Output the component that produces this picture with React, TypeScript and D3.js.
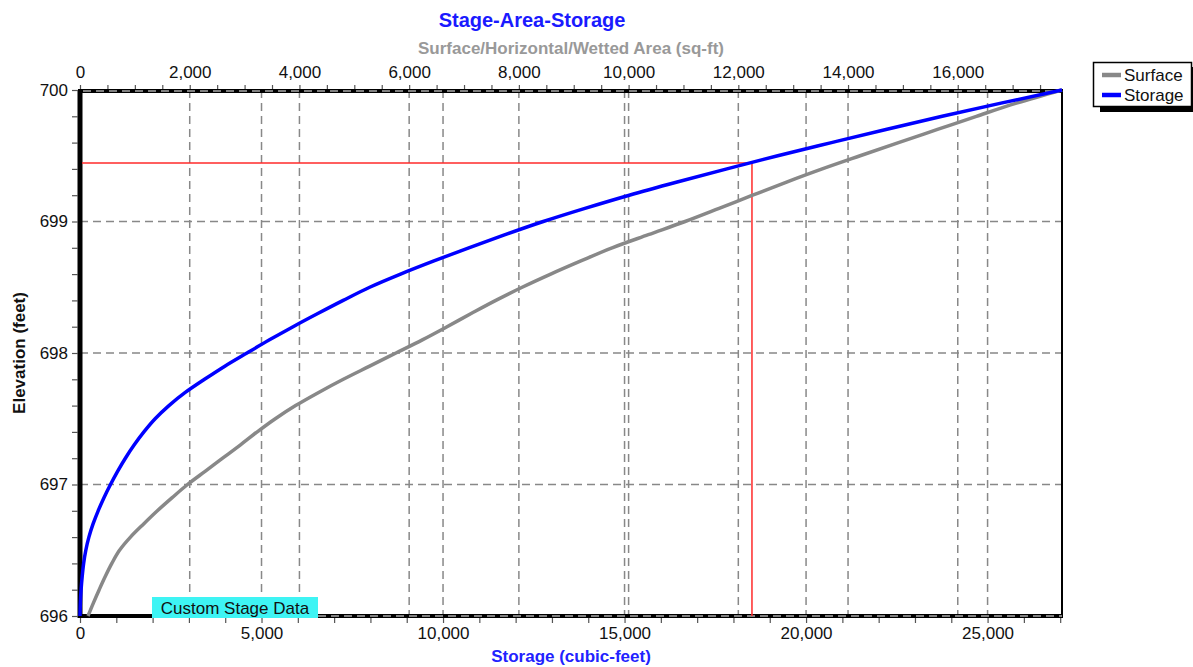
import React, { useEffect, useRef } from 'react';
import * as d3 from 'd3';

// elevation stations (feet)
const elevations = [
  696.0, 696.1, 696.2, 696.3, 696.4, 696.5, 696.6, 696.7, 696.8, 696.9,
  697.0, 697.1, 697.2, 697.3, 697.4, 697.5, 697.6, 697.7, 697.8, 697.9,
  698.0, 698.1, 698.2, 698.3, 698.4, 698.5, 698.6, 698.7, 698.8, 698.9,
  699.0, 699.1, 699.2, 699.3, 699.4, 699.5, 699.6, 699.7, 699.8, 699.9,
  700.0,
];

// storage (cubic-feet) at each elevation
const storageVol = [
  0, 10, 30, 60, 100, 160, 245, 360, 500, 660,
  840, 1035, 1250, 1490, 1760, 2070, 2450, 2900, 3430, 3990,
  4600, 5220, 5870, 6550, 7250, 7980, 8830, 9750, 10710, 11710,
  12760, 13910, 15130, 16450, 17820, 19220, 20700, 22200, 23750, 25370,
  27050,
];

// surface area (sq-ft) at each elevation
const surfaceArea = [
  146, 245, 350, 460, 580, 720, 920, 1160, 1410, 1680,
  1960, 2280, 2600, 2920, 3230, 3560, 3930, 4350, 4800, 5280,
  5760, 6240, 6690, 7130, 7580, 8060, 8580, 9130, 9700, 10360,
  11030, 11650, 12260, 12880, 13530, 14220, 14920, 15630, 16340, 17070,
  17900,
];

const storageMax = 27050;
const areaMax = 17900;
const elevTicks = [696, 697, 698, 699, 700];
const storageTicks = [0, 5000, 10000, 15000, 20000, 25000];
const areaTicks = [0, 2000, 4000, 6000, 8000, 10000, 12000, 14000, 16000];

// red marker lines
const markerElev = 699.445;
const markerStorage = 18510;

const legendItems = [
  { name: 'Surface', color: '#888888' },
  { name: 'Storage', color: '#0000ff' },
];

const FONT = '"Liberation Sans", Arial, sans-serif';

function Chart() {
  const ref = useRef<SVGSVGElement | null>(null);

  useEffect(() => {
    if (!ref.current) return;
    const width = 1193;
    const height = 667;
    const left = 80;
    const right = 1062;
    const top = 90;
    const bottom = 616;

    const svg = d3.select(ref.current);
    svg.selectAll('*').remove();
    svg.attr('width', width).attr('height', height);

    const x = d3.scaleLinear().domain([0, storageMax]).range([left, right]);
    const xTop = d3.scaleLinear().domain([0, areaMax]).range([left, right]);
    const y = d3.scaleLinear().domain([696, 700]).range([bottom, top]);
    const fmt = d3.format(',');

    // grid
    const grid = svg.append('g').attr('stroke', '#888').attr('stroke-width', 1.5).attr('stroke-dasharray', '8,5');
    grid.selectAll('line.v1').data(storageTicks.filter((d) => d > 0)).join('line')
      .attr('x1', (d) => x(d)).attr('x2', (d) => x(d)).attr('y1', top).attr('y2', bottom);
    grid.selectAll('line.v2').data(areaTicks.filter((d) => d > 0)).join('line')
      .attr('class', 'v2')
      .attr('x1', (d) => xTop(d)).attr('x2', (d) => xTop(d)).attr('y1', top).attr('y2', bottom);
    grid.selectAll('line.h').data(elevTicks.filter((d) => d > 696 && d < 700)).join('line')
      .attr('class', 'h')
      .attr('x1', left).attr('x2', right).attr('y1', (d) => y(d)).attr('y2', (d) => y(d));

    // frame
    const frame = svg.append('g').attr('stroke', '#000');
    frame.append('line').attr('x1', left - 2).attr('x2', right).attr('y1', top + 1).attr('y2', top + 1).attr('stroke-width', 4);
    frame.append('line').attr('x1', left - 2).attr('x2', right).attr('y1', bottom).attr('y2', bottom).attr('stroke-width', 4);
    frame.append('line').attr('x1', left).attr('x2', left).attr('y1', top).attr('y2', bottom + 2).attr('stroke-width', 5);
    frame.append('line').attr('x1', right).attr('x2', right).attr('y1', top - 1).attr('y2', bottom + 2).attr('stroke-width', 2);
    const edge = svg.append('g').attr('stroke', '#aaa').attr('stroke-width', 1.5).attr('stroke-dasharray', '8,5');
    edge.append('line').attr('x1', left + 3).attr('x2', right).attr('y1', top + 1).attr('y2', top + 1);
    edge.append('line').attr('x1', 318).attr('x2', right).attr('y1', bottom).attr('y2', bottom);

    // axes
    const styleAxis = (g: any) => {
      g.select('.domain').remove();
      g.selectAll('.tick line').attr('stroke', '#555').attr('stroke-width', 1.2);
      g.selectAll('.tick text').attr('font-family', FONT).attr('font-size', 17).attr('fill', '#111');
    };

    svg.append('g')
      .attr('transform', `translate(0,${bottom + 2})`)
      .call(d3.axisBottom(x).tickValues(d3.range(0, storageMax, 1000)).tickSize(5).tickPadding(4)
        .tickFormat((d: any) => (d % 5000 === 0 ? fmt(d) : '')))
      .call(styleAxis);

    svg.append('g')
      .attr('transform', `translate(0,${top - 1})`)
      .call(d3.axisTop(xTop).tickValues(d3.range(0, areaMax, 500)).tickSize(4).tickPadding(7)
        .tickFormat((d: any) => (d % 2000 === 0 ? fmt(d) : '')))
      .call(styleAxis);

    svg.append('g')
      .attr('transform', `translate(${left - 2},0)`)
      .call(d3.axisLeft(y).tickValues(d3.range(696, 700.01, 0.2)).tickSize(6).tickPadding(4)
        .tickFormat((d: any) => (Math.abs(d - Math.round(d)) < 1e-6 ? String(Math.round(d)) : '')))
      .call(styleAxis);

    // marker lines
    svg.append('line').attr('x1', left + 2).attr('x2', x(markerStorage)).attr('y1', y(markerElev)).attr('y2', y(markerElev))
      .attr('stroke', '#ff2a2a').attr('stroke-width', 1.5);
    svg.append('line').attr('x1', x(markerStorage)).attr('x2', x(markerStorage)).attr('y1', y(markerElev)).attr('y2', bottom)
      .attr('stroke', '#ff2a2a').attr('stroke-width', 1.5);

    // curves
    const surfLine = d3.line<number>().x((d, i) => xTop(surfaceArea[i])).y((d) => y(d)).curve(d3.curveMonotoneY);
    svg.append('path').datum(elevations).attr('d', surfLine).attr('fill', 'none')
      .attr('stroke', '#888888').attr('stroke-width', 3.5);
    const storLine = d3.line<number>().x((d, i) => x(storageVol[i])).y((d) => y(d)).curve(d3.curveMonotoneY);
    svg.append('path').datum(elevations).attr('d', storLine).attr('fill', 'none')
      .attr('stroke', '#0000ff').attr('stroke-width', 3.5);

    // custom stage data label
    svg.append('rect').attr('x', 152).attr('y', 597).attr('width', 166).attr('height', 21).attr('fill', '#3ef4f4');
    svg.append('text').attr('x', 235).attr('y', 614).attr('text-anchor', 'middle')
      .attr('font-family', FONT).attr('font-size', 17).attr('fill', '#111').text('Custom Stage Data');

    // titles
    svg.append('text').attr('x', 532).attr('y', 27).attr('text-anchor', 'middle')
      .attr('font-family', FONT).attr('font-size', 20).attr('font-weight', 'bold').attr('fill', '#1a1aff')
      .text('Stage-Area-Storage');
    svg.append('text').attr('x', (left + right) / 2).attr('y', 54).attr('text-anchor', 'middle')
      .attr('font-family', FONT).attr('font-size', 17).attr('font-weight', 'bold').attr('fill', '#999')
      .text('Surface/Horizontal/Wetted Area (sq-ft)');
    svg.append('text').attr('x', (left + right) / 2).attr('y', 662).attr('text-anchor', 'middle')
      .attr('font-family', FONT).attr('font-size', 17).attr('font-weight', 'bold').attr('fill', '#2222ff')
      .text('Storage (cubic-feet)');
    svg.append('text').attr('transform', `translate(25,${(top + bottom) / 2}) rotate(-90)`).attr('text-anchor', 'middle')
      .attr('font-family', FONT).attr('font-size', 17).attr('font-weight', 'bold').attr('fill', '#111')
      .text('Elevation  (feet)');

    // legend
    const lg = svg.append('g');
    lg.append('rect').attr('x', 1100).attr('y', 67).attr('width', 100).attr('height', 45).attr('fill', '#000');
    lg.append('rect').attr('x', 1093.5).attr('y', 62.5).attr('width', 98).attr('height', 44)
      .attr('fill', '#fff').attr('stroke', '#000').attr('stroke-width', 1.5);
    legendItems.forEach((it, i) => {
      const cy = 75 + i * 20;
      lg.append('line').attr('x1', 1102).attr('x2', 1121).attr('y1', cy).attr('y2', cy)
        .attr('stroke', it.color).attr('stroke-width', 4.5);
      lg.append('text').attr('x', 1124).attr('y', cy + 6).attr('font-family', FONT).attr('font-size', 17)
        .attr('fill', '#111').text(it.name);
    });
  }, []);

  return <svg ref={ref} style={{ position: 'absolute', left: 0, top: 0 }} />;
}

export default function App() {
  return <Chart />;
}
